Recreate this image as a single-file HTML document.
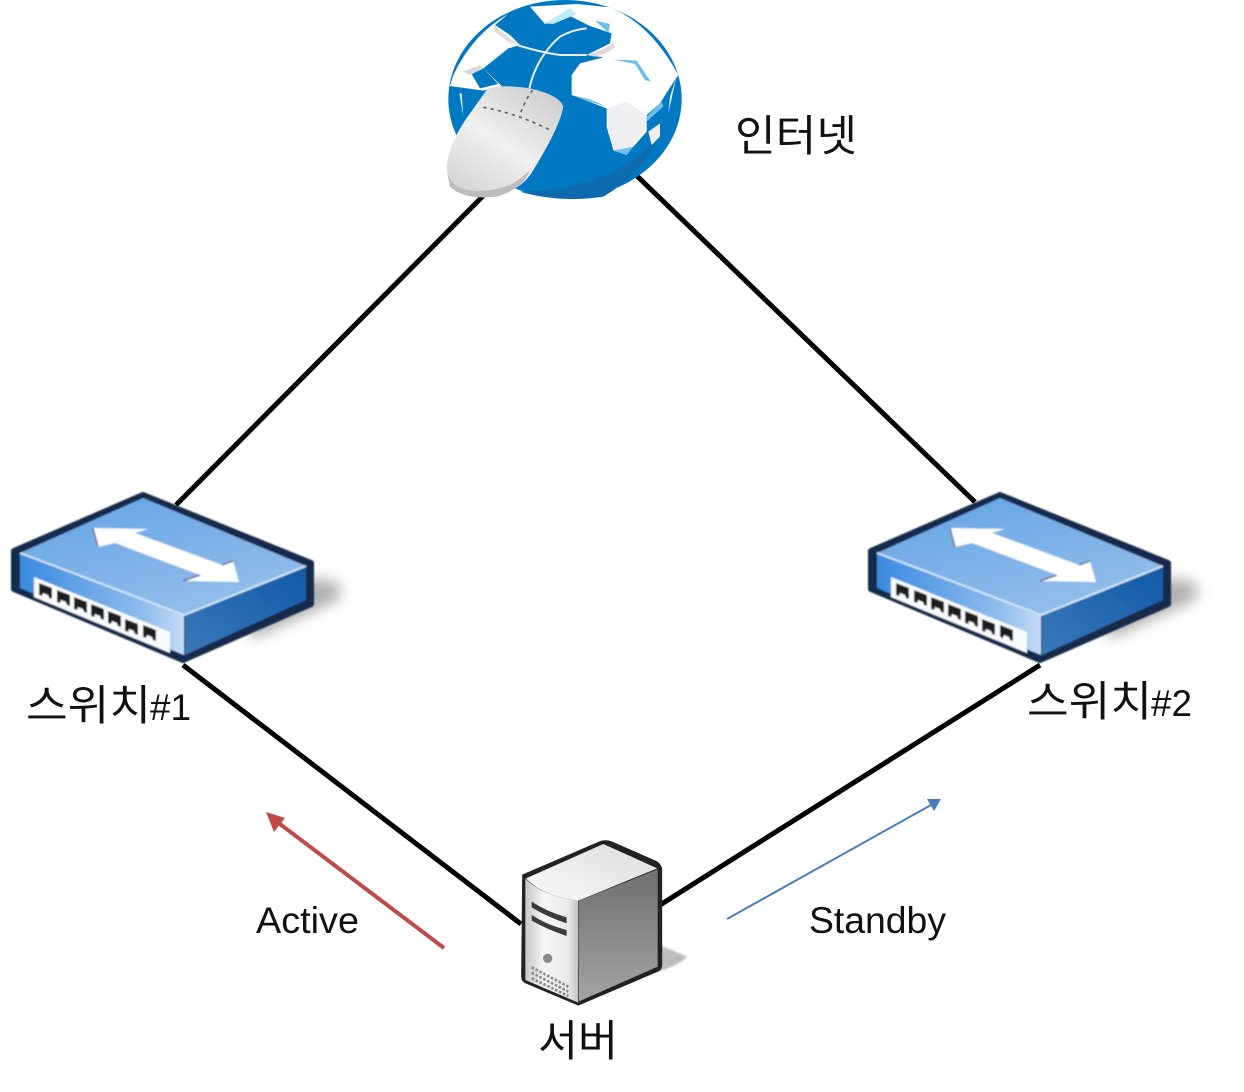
<!DOCTYPE html>
<html><head><meta charset="utf-8"><style>html,body{margin:0;padding:0;background:#fff}svg{display:block}text{font-family:"Liberation Sans","Noto Sans CJK KR",sans-serif;fill:#111}</style></head><body>
<svg width="1244" height="1092" viewBox="0 0 1244 1092" xmlns="http://www.w3.org/2000/svg">
<defs>
<linearGradient id="top" x1="0" y1="0" x2="0.6" y2="1"><stop offset="0" stop-color="#62a3e4"/><stop offset="1" stop-color="#93bdea"/></linearGradient>
<linearGradient id="front" x1="0" y1="0" x2="1" y2="0"><stop offset="0" stop-color="#3a8ae0"/><stop offset=".75" stop-color="#8fbcec"/><stop offset="1" stop-color="#c5dcf5"/></linearGradient>
<linearGradient id="side" x1="0" y1="1" x2="1" y2="0"><stop offset="0" stop-color="#3b78b8"/><stop offset="1" stop-color="#105aa8"/></linearGradient>
<linearGradient id="mouse" x1="0.8" y1="0" x2="0.1" y2="1"><stop offset="0" stop-color="#cfcfcf"/><stop offset=".5" stop-color="#f0f0f0"/><stop offset="1" stop-color="#d2d2d2"/></linearGradient>
<linearGradient id="srvside" x1="0" y1="0" x2="0" y2="1"><stop offset="0" stop-color="#6f6f6f"/><stop offset="1" stop-color="#a4a4a4"/></linearGradient>
<linearGradient id="srvfront" x1="0" y1="0" x2="1" y2="0"><stop offset="0" stop-color="#c8c8c8"/><stop offset=".35" stop-color="#f6f6f6"/><stop offset=".8" stop-color="#eaeaea"/><stop offset="1" stop-color="#c4c4c4"/></linearGradient>
<linearGradient id="srvtop" x1="0" y1="1" x2="1" y2="0"><stop offset="0" stop-color="#fafafa"/><stop offset="1" stop-color="#dcdcdc"/></linearGradient>
<filter id="b1" x="-40%" y="-40%" width="180%" height="180%"><feGaussianBlur stdDeviation="7"/></filter>
<filter id="b2" x="-30%" y="-30%" width="160%" height="160%"><feGaussianBlur stdDeviation="3"/></filter>
<filter id="s" x="-5%" y="-5%" width="110%" height="110%"><feGaussianBlur stdDeviation=".7"/></filter>
<g id="sw">
<path d="M250 578 L332 580 Q350 592 332 603 L250 640Z" fill="#b0b0b0" filter="url(#b1)"/>
<g filter="url(#s)">
<path d="M143 495 L311 563 V604 L183 660 L14 589 V551Z" fill="#192b4b" stroke="#192b4b" stroke-width="6" stroke-linejoin="round"/>
<path d="M143 498 L306 566 L184 615 L20 553Z" fill="url(#top)"/>
<path d="M20 554 L184 616 V655 L20 588Z" fill="url(#front)"/>
<path d="M185 615 L306 567 V600 L185 655Z" fill="url(#side)"/>
<path d="M20 553 L184 615 L306 566" fill="none" stroke="#d5e6f8" stroke-width="2"/>
<path d="M34 577 L170 632 V653 L34 597Z" fill="#f8fbfe"/>
<g fill="#1c1c1c"><path d="M39 583l13 5v11l-3-1-1-3-5-2-1 3-3-1z"/><path d="M57 590l13 5v11l-3-1-1-3-5-2-1 3-3-1z"/><path d="M74 597l13 5v11l-3-1-1-3-5-2-1 3-3-1z"/><path d="M91 604l13 5v11l-3-1-1-3-5-2-1 3-3-1z"/><path d="M108 611l13 5v11l-3-1-1-3-5-2-1 3-3-1z"/><path d="M125 619l13 5v11l-3-1-1-3-5-2-1 3-3-1z"/><path d="M143 625l13 5v11l-3-1-1-3-5-2-1 3-3-1z"/></g>
<path d="M93 528 L148 529 L135 533 L222 565 L233 561 L239 582 L183 581 L200 575 L115 543 L98 547Z" fill="#fff"/>
<path d="M93 528 L98 547" stroke="#6a6f9a" stroke-width="1.5"/><path d="M183 581 L200 575 M222 565 L233 561" stroke="#6a6f9a" stroke-width="1.5"/>
</g>
</g>
</defs>

<g stroke="#000" stroke-width="5" fill="none">
<path d="M483 196 L176 505"/>
<path d="M636 175 L975 502"/>
<path d="M183 665 L521 924"/>
<path d="M1040 665 L660 905"/>
</g>

<!-- globe -->
<g transform="translate(430 0) scale(.33333)" filter="url(#s)">
<ellipse cx="405" cy="297" rx="350" ry="297" fill="#0578c2"/>
<path d="M270 575 Q560 570 690 400 Q640 520 520 590 Q390 610 270 575Z" fill="#0a6aad"/>
<!-- upper right + Africa -->
<path d="M540 22 Q660 70 745 225 L720 262 L690 310 L650 345 L650 395 L610 440 L590 465 L550 450 L530 380 L530 325 L425 285 L425 225 L450 190 L520 172 L470 165 L540 130 L545 100 L480 78 L420 48 L345 72 L300 20 L440 12Z" fill="#fff"/>
<path d="M530 325 L590 305 L645 340 L645 390 L605 440 L555 450 L535 400Z" fill="#efeff1"/>
<path d="M480 160 Q530 150 550 125 L555 140 Q530 165 490 170Z" fill="#dcdcdc"/>
<path d="M550 178 L620 182 L662 245 L645 240 L615 192Z M425 285 L480 298 L530 320 L480 305Z M550 452 L610 440 L590 465Z M650 350 L695 305 L700 320 L650 365Z" fill="#6dbdee"/>
<path d="M345 70 L420 24 L440 42 L370 72Z" fill="#bfeafa"/>
<path d="M495 62 L540 72 L535 98Z" fill="#69bfee"/>
<path d="M655 395 L690 370 L690 410 L665 435Z" fill="#eee"/>
<!-- upper left -->
<path d="M235 42 Q130 100 70 225 L60 258 L160 272 L215 258 L160 205 L235 145 L270 135 L240 105 L195 75Z" fill="#fff"/>
<path d="M125 222 L160 205 L205 252 L150 265Z" fill="#0578c2"/>
<path d="M100 215 L150 195 L160 205 L120 225Z" fill="#d9d9d9"/>
<path d="M190 75 L240 115 L265 135 L240 130 L195 95Z" fill="#dcdcdc"/>
<path d="M88 280 L100 350 L95 280Z M740 230 L720 290 L715 340 L735 250Z" fill="#d8f1fc"/>
<path d="M50 500 Q60 420 120 340 L170 270 Q190 250 300 265 Q390 285 400 320 Q390 380 310 510 Q280 565 200 590 Q100 600 60 560Z" fill="url(#mouse)"/>
<path d="M50 510 Q60 560 110 570 Q190 580 250 550 Q280 530 300 510 Q280 565 200 590 Q100 600 60 560Z" fill="#bcbcbc"/>
<path d="M160 322 Q260 340 360 390 M308 270 Q285 300 270 345" fill="none" stroke="#666" stroke-width="5" stroke-dasharray="10 12"/>
<path d="M298 265 Q320 170 390 110 Q430 88 470 85 M230 125 Q320 155 390 165 L470 165" fill="none" stroke="#ececec" stroke-width="6"/>
</g>

<!-- switches -->
<use href="#sw"/>
<use href="#sw" x="857"/>

<!-- server -->
<g transform="translate(500 830) scale(.33333)">
<path d="M465 340 L562 380 Q540 405 465 428Z" fill="#bcbcbc" filter="url(#b2)"/>
<g filter="url(#s)">
<path d="M68 135 L300 35 Q320 28 345 40 L470 95 Q485 105 485 120 V405 Q485 420 470 425 L235 525 L80 460 Q65 455 65 440Z" fill="#222" stroke="#222" stroke-width="3" stroke-linejoin="round"/>
<path d="M78 145 L310 42 L472 115 L235 212Q130 200 78 145Z" fill="url(#srvtop)"/>
<path d="M76 146 Q130 200 235 212 V518 L76 450Z" fill="url(#srvfront)"/>
<path d="M237 212 L473 118 V410 L237 514Z" fill="url(#srvside)"/>
<path d="M95 215 Q140 245 200 262 V280 Q140 260 95 232Z M95 255 Q140 285 200 300 V318 Q140 298 95 272Z" fill="#3a3a3a"/>
<circle cx="143" cy="385" r="14" fill="#8a8a8a"/>
<path d="M95 412 L205 470 M95 428 L205 485 M95 445 L205 498" stroke="#8e8e8e" stroke-width="8" stroke-dasharray="8 5"/>
</g>
</g>

<!-- flow arrows -->
<line x1="444" y1="948" x2="276" y2="821" stroke="#be4b48" stroke-width="4"/>
<path d="M266 812 L285 818 L274 832Z" fill="#be4b48"/>
<line x1="727" y1="919" x2="931" y2="805" stroke="#4a7ebb" stroke-width="2"/>
<path d="M941 799 L934 811 L927 799Z" fill="#4a7ebb"/>

<!-- labels -->
<text x="735" y="151" font-size="43" textLength="122" lengthAdjust="spacingAndGlyphs">인터넷</text>
<text x="26" y="720" font-size="42" textLength="125" lengthAdjust="spacingAndGlyphs">스위치</text>
<text x="150" y="720" font-size="37" textLength="41" lengthAdjust="spacingAndGlyphs">#1</text>
<text x="1027" y="716" font-size="42" textLength="125" lengthAdjust="spacingAndGlyphs">스위치</text>
<text x="1151" y="716" font-size="37" textLength="41" lengthAdjust="spacingAndGlyphs">#2</text>
<text x="256" y="933" font-size="37" textLength="103" lengthAdjust="spacingAndGlyphs">Active</text>
<text x="809" y="933" font-size="37" textLength="137" lengthAdjust="spacingAndGlyphs">Standby</text>
<text x="538" y="1056" font-size="43" textLength="80" lengthAdjust="spacingAndGlyphs">서버</text>
</svg>
</body></html>
